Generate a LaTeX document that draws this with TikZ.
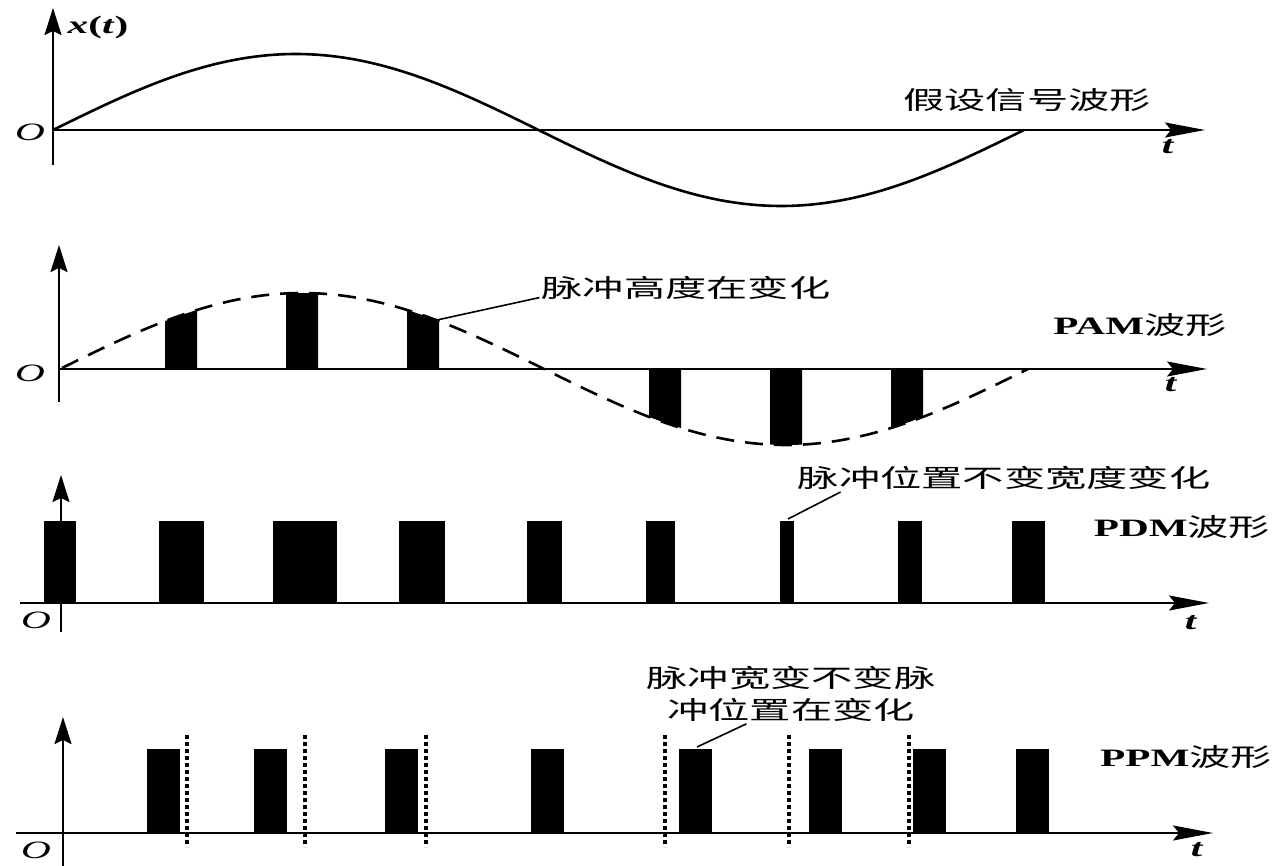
\documentclass[tikz,border=0pt]{standalone}
\usepackage{fontspec}
\setmainfont[FakeStretch=1.65]{Liberation Serif}
\newfontfamily\cjk[FakeStretch=1.65]{Noto Sans CJK SC}
\usetikzlibrary{arrows.meta}

\begin{document}
\begin{tikzpicture}[x=1pt,y=-1pt,
  haxis/.style={line width=2pt,-{Stealth[length=40pt,width=15pt,inset=6pt]}},
  vaxis/.style={line width=2pt,-{Stealth[length=27pt,width=17pt,inset=4pt]}},
  txt/.style={font=\fontsize{25}{32}\selectfont,inner sep=2pt},
  wave/.style={line width=2.6pt},
  dots/.style={line width=3.5pt,dash pattern=on 4pt off 3pt}]
\useasboundingbox (0,0) rectangle (1278,866);

% assumed signal
\draw[vaxis] (53,165) -- (53,8);
\draw[haxis] (53,130) -- (1205,130);
\draw[wave,domain=53:1024,samples=120,smooth,variable=\x] plot (\x,{130-76*sin((\x-53)/971*360)});
\node[txt] (xt) at (98,27) {\textbf{\textit{x}(\textit{t})}};
\node[txt] (o1) at (30,132) {\textit{O}};
\node[txt] (t1) at (1168,147) {\textbf{\textit{t}}};
\node[txt] (sig) at (1027,100) {\cjk 假设信号波形};

% PAM
\draw[vaxis] (59,402) -- (59,245);
\draw[haxis] (59,369) -- (1207,369);
\foreach \k in {1,2,3,5,6,7} {
  \pgfmathsetmacro\a{60+121*\k-16}
  \pgfmathsetmacro\b{60+121*\k+16}
  \fill (\a,369) -- plot[domain=\a:\b,samples=8,variable=\x] (\x,{369-76*sin((\x-60)/968*360)}) -- (\b,369) -- cycle;
}
\draw[wave,dash pattern=on 18pt off 11pt,domain=62:1028,samples=120,smooth,variable=\x] plot (\x,{369-76*sin((\x-60)/968*360)});
\coordinate (hp) at (437,320);
\node[txt] (o2) at (30,373) {\textit{O}};
\node[txt] (t2) at (1171,385) {\textbf{\textit{t}}};
\node[txt] (pam) at (1140,325) {\textbf{PAM}{\cjk 波形}};
\node[txt] (hgt) at (686,288) {\cjk 脉冲高度在变化};
\draw[line width=1.6pt] (hp) -- (hgt.base west);

% PDM
\draw[vaxis] (61,632) -- (61,475);
\draw[haxis] (20,603) -- (1209,603);
\foreach \c/\w in {60/32,181/45,305/64,422/46,544/35,660/29,787/14,910/24,1028/33}
  \fill ({\c-\w/2},603) rectangle ({\c+\w/2},521);
\coordinate (pw) at (788,519);
\node[txt] (o3) at (36,620) {\textit{O}};
\node[txt] (t3) at (1191,623) {\textbf{\textit{t}}};
\node[txt] (pdm) at (1182,527) {\textbf{PDM}{\cjk 波形}};
\node[txt] (wid) at (1004,478) {\cjk 脉冲位置不变宽度变化};
\draw[line width=1.6pt] (pw) -- ([xshift=45pt]wid.south west);

% PPM
\draw[vaxis] (63,866) -- (63,717);
\draw[haxis] (16,833) -- (1213,833);
\foreach \l in {147,254,385,531,679,809,913,1016}
  \fill (\l,833) rectangle (\l+33,749);
\foreach \d in {187,305,426,665,789,909}
  \draw[dots] (\d,735) -- (\d,847);
\coordinate (pp) at (697,747);
\node[txt] (o4) at (36,850) {\textit{O}};
\node[txt] (t4) at (1197,850) {\textbf{\textit{t}}};
\node[txt] (ppm) at (1186,757) {\textbf{PPM}{\cjk 波形}};
\node[txt,align=center] (pos) at (791,694) {\cjk 脉冲宽变不变脉\\\cjk 冲位置在变化};
\draw[line width=1.6pt] (pp) -- ([xshift=102pt]pos.south west);
\end{tikzpicture}
\end{document}
